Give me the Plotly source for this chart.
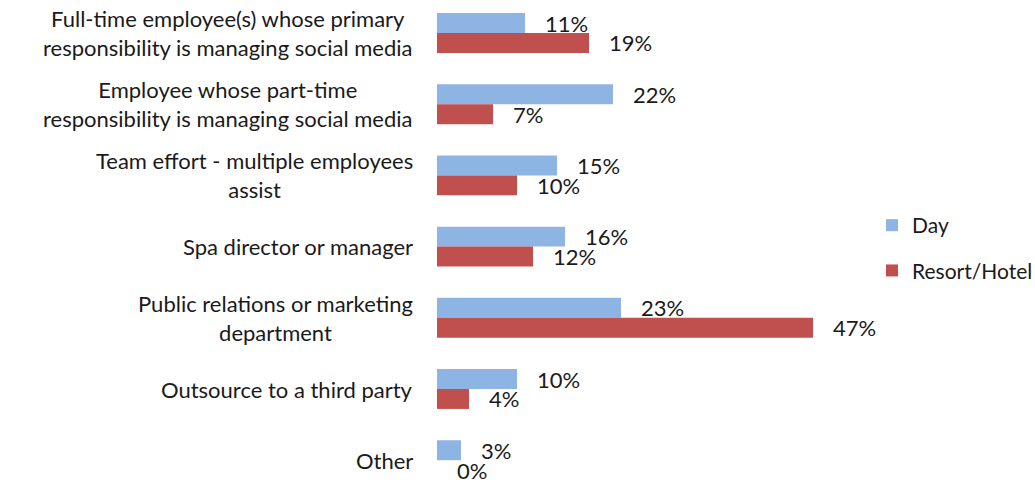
import plotly.graph_objects as go

categories = [
    "Full-time employee(s) whose primary<br>responsibility is managing social media",
    "Employee whose part-time<br>responsibility is managing social media",
    "Team effort - multiple employees<br>assist",
    "Spa director or manager",
    "Public relations or marketing<br>department",
    "Outsource to a third party",
    "Other",
]
day = [11, 22, 15, 16, 23, 10, 3]
resort_hotel = [19, 7, 10, 12, 47, 4, 0]

FONT = "Lato"
W, H = 1035, 484
px_per_pct = 8.0
plot_left = 437
row_px = 71.2
first_row_center = 33

fig = go.Figure()
for name, vals, color, grp in [
    ("Day", day, "#8EB4E3", "a"),
    ("Resort/Hotel", resort_hotel, "#C0504D", "b"),
]:
    fig.add_trace(go.Bar(
        y=list(range(len(categories))),
        x=vals,
        name=name,
        orientation="h",
        marker=dict(color=color, line=dict(width=0)),
        text=[f"\u00a0\u00a0\u00a0{v}%" for v in vals],
        textposition="outside",
        constraintext="none",
        cliponaxis=False,
        textfont=dict(family=FONT, size=22, color="#1a1a1a"),
        legendgroup=grp,
        hoverinfo="skip",
    ))

# category labels, centered multi-line, right-aligned to the plot edge
for i, c in enumerate(categories):
    fig.add_annotation(
        x=415 / W, xref="paper", xanchor="right",
        y=i, yref="y", yanchor="middle",
        text=c, showarrow=False, align="center",
        font=dict(family=FONT, size=22, color="#1a1a1a"),
    )

y_top = -first_row_center / row_px
y_bottom = (H - first_row_center) / row_px

fig.update_layout(
    width=W, height=H,
    margin=dict(l=0, r=0, t=0, b=0, autoexpand=False),
    paper_bgcolor="white", plot_bgcolor="white",
    barmode="group", bargap=0.44, bargroupgap=0,
    xaxis=dict(domain=[plot_left / W, 1], range=[0, (W - plot_left) / px_per_pct],
               visible=False),
    yaxis=dict(range=[y_bottom, y_top], visible=False),
    legend=dict(x=872 / W, y=1 - 248 / H, xanchor="left", yanchor="middle",
                traceorder="grouped", tracegroupgap=15,
                font=dict(family=FONT, size=21, color="#1a1a1a"),
                bgcolor="rgba(0,0,0,0)"),
    showlegend=True,
)

fig.write_html("out.html")
